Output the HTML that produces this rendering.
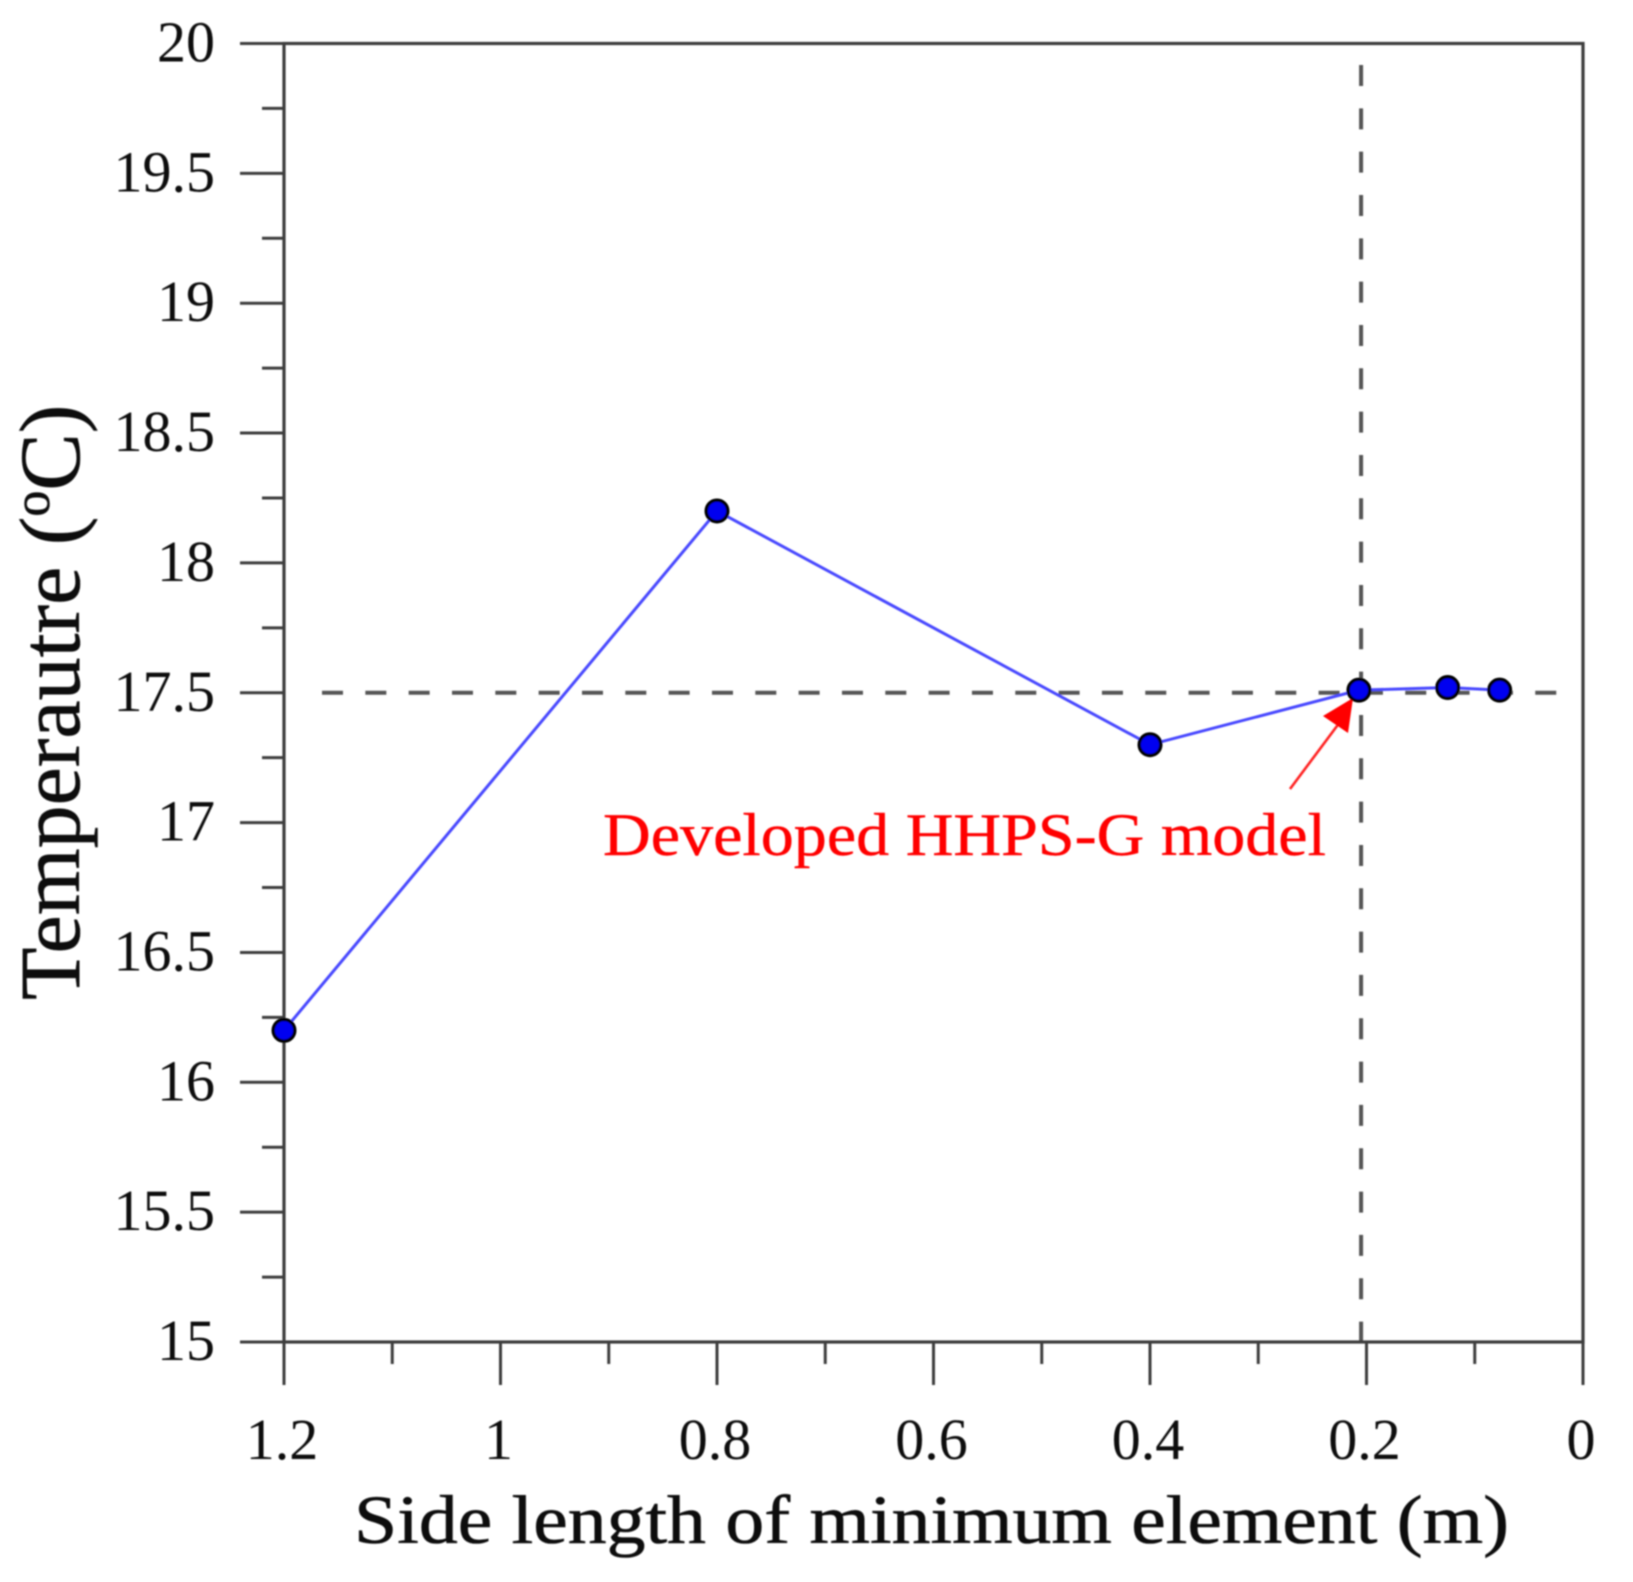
<!DOCTYPE html>
<html>
<head>
<meta charset="utf-8">
<title>Temperature vs side length of minimum element</title>
<style>
html,body{margin:0;padding:0;background:#fff;width:1633px;height:1582px;overflow:hidden}
svg{display:block}
text{font-family:"Liberation Serif",serif;fill:#111}
</style>
</head>
<body>
<svg id="chart" width="1633" height="1582" viewBox="0 0 1633 1582" xmlns="http://www.w3.org/2000/svg">
<defs>
<filter id="soft" x="-5%" y="-5%" width="110%" height="110%"><feGaussianBlur stdDeviation="0.8"/></filter>
</defs>
<rect width="1633" height="1582" fill="#fff"/>
<g id="root" filter="url(#soft)"></g>
</svg>
<script>
const sideLengths = [1.2, 0.8, 0.4, 0.207, 0.125, 0.077];
const temperatures = [16.2, 18.2, 17.3, 17.51, 17.52, 17.51];
const xMajorTicks = [1.2, 1, 0.8, 0.6, 0.4, 0.2, 0];
const xTickLabels = ['1.2', '1', '0.8', '0.6', '0.4', '0.2', '0'];
const xMinorTicks = [1.1, 0.9, 0.7, 0.5, 0.3, 0.1];
const yMajorTicks = [15, 15.5, 16, 16.5, 17, 17.5, 18, 18.5, 19, 19.5, 20];
const yTickLabels = ['15', '15.5', '16', '16.5', '17', '17.5', '18', '18.5', '19', '19.5', '20'];
const yMinorTicks = [15.25, 15.75, 16.25, 16.75, 17.25, 17.75, 18.25, 18.75, 19.25, 19.75];
const referenceX = [0.205];
const referenceY = [17.5];

const PL = 284, PR = 1583, PT = 43.5, PB = 1342;
const XMIN = 1.2, XMAX = 0, YMIN = 15, YMAX = 20;
function sx(v) { return PL + (v - XMIN) / (XMAX - XMIN) * (PR - PL); }
function sy(v) { return PB - (v - YMIN) / (YMAX - YMIN) * (PB - PT); }

const NS = 'http://www.w3.org/2000/svg';
const root = document.getElementById('root');
function mk(tag, attrs, parent) {
  const el = document.createElementNS(NS, tag);
  for (const k in attrs) el.setAttribute(k, attrs[k]);
  (parent || root).appendChild(el);
  return el;
}
const AXIS = '#3c3c3c';

/* reference dashed lines */
const hRef = mk('line', {x1: 322, x2: 1557, y1: sy(referenceY[0]), y2: sy(referenceY[0]), stroke: '#555', 'stroke-width': 4, 'stroke-dasharray': '21 22.33'});


const vRef = mk('line', {x1: sx(referenceX[0]), x2: sx(referenceX[0]), y1: 65, y2: PB, stroke: '#555', 'stroke-width': 4, 'stroke-dasharray': '21 22.33'});



/* frame */
const frame = mk('rect', {x: PL, y: PT, width: PR - PL, height: PB - PT, fill: 'none', stroke: AXIS, 'stroke-width': 3.2});



/* y ticks */
yMajorTicks.forEach(function (v, i) {
  const t = mk('line', {x1: 240, x2: PL, y1: sy(v), y2: sy(v), stroke: AXIS, 'stroke-width': 3});
  
  
  const l = mk('text', {x: 215, y: sy(v) + 18, 'text-anchor': 'end', 'font-size': 58});
  l.textContent = yTickLabels[i];
  
  
});
yMinorTicks.forEach(function (v) {
  const t = mk('line', {x1: 262, x2: PL, y1: sy(v), y2: sy(v), stroke: AXIS, 'stroke-width': 3});
  
  
});

/* x ticks */
xMajorTicks.forEach(function (v, i) {
  const t = mk('line', {x1: sx(v), x2: sx(v), y1: PB, y2: PB + 43, stroke: AXIS, 'stroke-width': 3});
  
  
  const l = mk('text', {x: sx(v) - 2, y: PB + 117, 'text-anchor': 'middle', 'font-size': 58});
  l.textContent = xTickLabels[i];
  
  
});
xMinorTicks.forEach(function (v) {
  const t = mk('line', {x1: sx(v), x2: sx(v), y1: PB, y2: PB + 22, stroke: AXIS, 'stroke-width': 3});
  
  
});

/* series line */
const linePts = sideLengths.map(function (x, i) { return sx(x) + ',' + sy(temperatures[i]); }).join(' ');
const series = mk('polyline', {points: linePts, fill: 'none', stroke: '#4a4aff', 'stroke-width': 3});



/* annotation arrow */
const arrowShaft = mk('line', {x1: 1290, y1: 789, x2: 1340, y2: 722, stroke: '#ff2020', 'stroke-width': 2.6});


const arrowHead = mk('polygon', {points: '1353,698 1323,716 1348,733', fill: '#ff0000'});



/* points */
sideLengths.forEach(function (x, i) {
  const c = mk('circle', {cx: sx(x), cy: sy(temperatures[i]), r: 10.8, fill: '#0000f0', stroke: '#000', 'stroke-width': 3.4});
  
  
});

/* annotation label */
const note = mk('text', {x: 603, y: 855, 'font-size': 60, textLength: 723, lengthAdjust: 'spacingAndGlyphs', stroke: '#ff0000', 'stroke-width': 0.4});
note.textContent = 'Developed HHPS-G model';
note.style.fill = '#ff0000';



/* axis titles */
const xTitle = mk('text', {x: 354, y: 1543, 'font-size': 69, textLength: 1155, lengthAdjust: 'spacingAndGlyphs', stroke: '#111', 'stroke-width': 0.6});
xTitle.textContent = 'Side length of minimum element (m)';



const yTitle = mk('text', {transform: 'translate(79,1000) rotate(-90)', 'font-size': 86, stroke: '#111', 'stroke-width': 0.6});
const ys1 = mk('tspan', {}, yTitle);
ys1.textContent = 'Temperautre (';
const ys2 = mk('tspan', {dy: -30, 'font-size': 52}, yTitle);
ys2.textContent = 'o';
const ys3 = mk('tspan', {dy: 30}, yTitle);
ys3.textContent = 'C)';


</script>
</body>
</html>
